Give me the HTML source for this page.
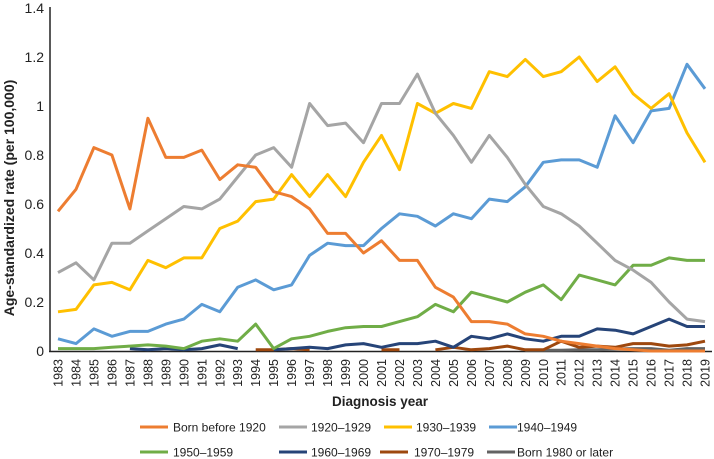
<!DOCTYPE html>
<html><head><meta charset="utf-8"><style>
body{margin:0;background:#fff;}
svg{display:block;font-family:"Liberation Sans",sans-serif;}
</style></head><body>
<svg id="chart" width="714" height="459" viewBox="0 0 714 459"></svg>
<script>
const years = [];
for (let y = 1983; y <= 2019; y++) years.push(y);
const yTicks = [0, 0.2, 0.4, 0.6, 0.8, 1, 1.2, 1.4];
const seriesNames = ["Born before 1920","1920–1929","1930–1939","1940–1949","1950–1959","1960–1969","1970–1979","Born 1980 or later"];
const seriesColors = ["#ED7D31","#A5A5A5","#FFC000","#5B9BD5","#70AD47","#264478","#9E480E","#636363"];
const sBefore1920 = [0.57,0.66,0.83,0.80,0.58,0.95,0.79,0.79,0.82,0.70,0.76,0.75,0.65,0.63,0.58,0.48,0.48,0.40,0.45,0.37,0.37,0.26,0.22,0.12,0.12,0.11,0.07,0.06,0.04,0.03,0.02,0.01,0.005,0,0,0,0];
const s1920 = [0.32,0.36,0.29,0.44,0.44,0.49,0.54,0.59,0.58,0.62,0.71,0.80,0.83,0.75,1.01,0.92,0.93,0.85,1.01,1.01,1.13,0.97,0.88,0.77,0.88,0.79,0.68,0.59,0.56,0.51,0.44,0.37,0.33,0.28,0.20,0.13,0.12];
const s1930 = [0.16,0.17,0.27,0.28,0.25,0.37,0.34,0.38,0.38,0.50,0.53,0.61,0.62,0.72,0.63,0.72,0.63,0.77,0.88,0.74,1.01,0.97,1.01,0.99,1.14,1.12,1.19,1.12,1.14,1.20,1.10,1.16,1.05,0.99,1.05,0.89,0.77];
const s1940 = [0.05,0.03,0.09,0.06,0.08,0.08,0.11,0.13,0.19,0.16,0.26,0.29,0.25,0.27,0.39,0.44,0.43,0.43,0.50,0.56,0.55,0.51,0.56,0.54,0.62,0.61,0.67,0.77,0.78,0.78,0.75,0.96,0.85,0.98,0.99,1.17,1.07];
const s1950 = [0.01,0.01,0.01,0.015,0.02,0.025,0.02,0.01,0.04,0.05,0.04,0.11,0.01,0.05,0.06,0.08,0.095,0.10,0.10,0.12,0.14,0.19,0.16,0.24,0.22,0.20,0.24,0.27,0.21,0.31,0.29,0.27,0.35,0.35,0.38,0.37,0.37];
const s1960 = [null,null,null,null,0.01,0.005,0.01,0.005,0.01,0.025,0.01,null,0.005,0.01,0.015,0.01,0.025,0.03,0.015,0.03,0.03,0.04,0.015,0.06,0.05,0.07,0.05,0.04,0.06,0.06,0.09,0.085,0.07,0.10,0.13,0.10,0.10];
const s1970 = [null,null,null,null,null,null,null,null,null,null,null,0.005,0.005,0.01,0.005,null,null,null,0.005,0.005,null,0.005,0.015,0.005,0.01,0.02,0.005,0.005,0.04,0.015,0.02,0.015,0.03,0.03,0.02,0.025,0.04];
const s1980 = [null,null,null,null,null,null,null,null,null,null,null,null,null,null,null,null,null,null,null,null,null,null,null,null,null,null,0.003,0.003,0.003,0.005,0.005,0.008,0.01,0.01,0.003,0.01,0.01];
const allSeries = [sBefore1920,s1920,s1930,s1940,s1950,s1960,s1970,s1980];

const NS = "http://www.w3.org/2000/svg";
const svg = document.getElementById("chart");
const X0 = 58, X1 = 705, Y0 = 351, Y1 = 8;
const xScale = i => X0 + (X1 - X0) * i / (years.length - 1);
const yScale = v => Y0 - (Y0 - Y1) * v / 1.4;
function mk(tag, attrs, parent) {
  const e = document.createElementNS(NS, tag);
  for (const k in attrs) e.setAttribute(k, attrs[k]);
  (parent || svg).appendChild(e);
  return e;
}

const yAxis = mk("line", {x1:50, y1:Y1-1, x2:50, y2:Y0+1, stroke:"#222", "stroke-width":1.5});


const xAxis = mk("line", {x1:49, y1:Y0+0.5, x2:712, y2:Y0+0.5, stroke:"#222", "stroke-width":1.5});



yTicks.forEach(t => {
  const tx = mk("text", {x:44, y:yScale(t)+5, "text-anchor":"end", "font-size":14, fill:"#222"});
  tx.textContent = String(t);
  
  
});
years.forEach((yr, i) => {
  const x = xScale(i);
  const tx = mk("text", {x:0, y:0, "text-anchor":"end", "font-size":12.5, fill:"#222", transform:`translate(${x+4.5},${Y0+8}) rotate(-90)`});
  tx.textContent = String(yr);
  
  
});

const yt = mk("text", {x:0, y:0, "text-anchor":"middle", "font-size":14, "font-weight":"bold", fill:"#222", transform:"translate(14,198) rotate(-90)"});
yt.textContent = "Age-standardized rate (per 100,000)";


const xt = mk("text", {x:380, y:406, "text-anchor":"middle", "font-size":13.5, "font-weight":"bold", fill:"#222"});
xt.textContent = "Diagnosis year";



const order = [7,6,5,4,3,2,1,0];
order.forEach(si => {
  const vals = allSeries[si];
  let d = "", pen = false;
  vals.forEach((v, i) => {
    if (v === null) { pen = false; return; }
    d += (pen ? "L" : "M") + xScale(i).toFixed(1) + "," + yScale(v).toFixed(1);
    pen = true;
  });
  const p = mk("path", {d:d, fill:"none", stroke:seriesColors[si], "stroke-width":3, "stroke-linejoin":"round"});
  
  
});

const legX = [[140,173],[279,311],[384,416],[489,517]];
const legX2 = [[140,173],[279,311],[380,414],[487,517]];
seriesNames.forEach((n, i) => {
  const row = i < 4 ? 0 : 1;
  const pos = row === 0 ? legX[i] : legX2[i-4];
  const y = row === 0 ? 427 : 452;
  const g = mk("g", {});
  
  
  mk("line", {x1:pos[0], y1:y, x2:pos[0]+28, y2:y, stroke:seriesColors[i], "stroke-width":3}, g);
  const t = mk("text", {x:pos[1], y:y+4.5, "font-size":12, fill:"#222"}, g);
  t.textContent = n;
});
</script>
</body></html>
